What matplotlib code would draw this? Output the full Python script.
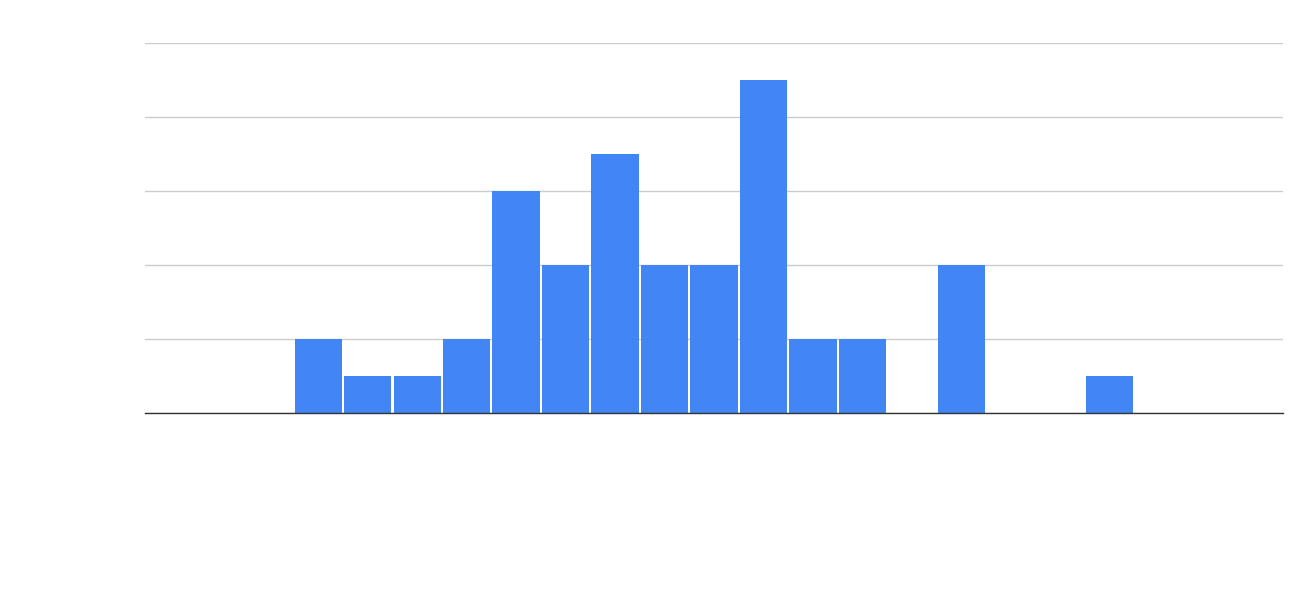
import matplotlib
matplotlib.use("Agg")
import matplotlib.pyplot as plt

# histogram counts per bin (23 bins, no labels shown in the chart)
bins = list(range(23))
counts = [0, 0, 0, 2, 1, 1, 2, 6, 4, 7, 4, 4, 9, 2, 2, 0, 4, 0, 0, 1, 0, 0, 0]
gridlines = [0, 2, 4, 6, 8, 10]

W, H = 1313, 591
fig = plt.figure(figsize=(W / 100, H / 100), dpi=100)
ax = fig.add_axes([145 / W, 178 / H, (1283 - 145) / W, (413 - 43) / H])

ax.bar(bins, counts, width=0.955, color="#4285F4", zorder=2)

ax.set_xlim(-0.5, 22.5)
ax.set_ylim(0, 10)
ax.set_yticks(gridlines)
ax.grid(axis="y", color="#cccccc", linewidth=1, zorder=0)
ax.set_xticks([])
ax.tick_params(left=False, labelleft=False)
for s in ["top", "right", "left"]:
    ax.spines[s].set_visible(False)
ax.spines["bottom"].set_color("#333333")
ax.spines["bottom"].set_linewidth(1)
ax.spines["bottom"].set_zorder(3)

fig.savefig("out.png", dpi=100, facecolor="white")
